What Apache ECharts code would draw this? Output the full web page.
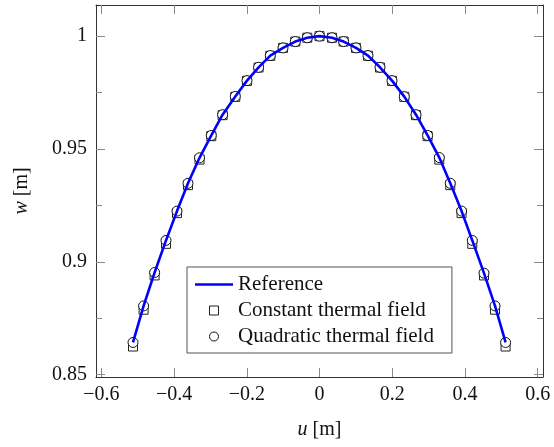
<!DOCTYPE html>
<html>
<head>
<meta charset="utf-8">
<script src="https://cdn.jsdelivr.net/npm/echarts@6/dist/echarts.min.js"></script>
<style>
html,body{margin:0;padding:0;background:#fff;}
#chart{width:554px;height:447px;}
</style>
</head>
<body>
<div id="chart"></div>
<script>
const uValues = [-0.5129, -0.4838, -0.4535, -0.4222, -0.3919, -0.3617, -0.3300, -0.2976, -0.2665, -0.2316, -0.1994, -0.1675, -0.1353, -0.1004, -0.0666, -0.0336, 0.0000,
  0.0344, 0.0663, 0.1004, 0.1334, 0.1664, 0.1994, 0.2332, 0.2654, 0.2973, 0.3295, 0.3597, 0.3908, 0.4202, 0.4524, 0.4827, 0.5118];
const wReference = [0.8643, 0.8805, 0.8953, 0.9095, 0.9225, 0.9348, 0.9461, 0.9560, 0.9652, 0.9733, 0.9803, 0.9862, 0.9914, 0.9948, 0.9976, 0.9993, 1.0000,
  0.9993, 0.9976, 0.9948, 0.9914, 0.9862, 0.9803, 0.9732, 0.9652, 0.9560, 0.9462, 0.9348, 0.9225, 0.9095, 0.8950, 0.8805, 0.8643];
const wConstant = [0.8625, 0.8788, 0.8940, 0.9080, 0.9216, 0.9340, 0.9453, 0.9557, 0.9650, 0.9731, 0.9802, 0.9861, 0.9913, 0.9948, 0.9976, 0.9993, 1.0000,
  0.9993, 0.9976, 0.9948, 0.9913, 0.9861, 0.9802, 0.9731, 0.9650, 0.9557, 0.9453, 0.9340, 0.9216, 0.9080, 0.8940, 0.8788, 0.8625];
const wQuadratic = [0.8643, 0.8805, 0.8953, 0.9095, 0.9225, 0.9348, 0.9461, 0.9560, 0.9652, 0.9733, 0.9803, 0.9862, 0.9914, 0.9948, 0.9976, 0.9993, 1.0000,
  0.9993, 0.9976, 0.9948, 0.9914, 0.9862, 0.9803, 0.9732, 0.9652, 0.9560, 0.9462, 0.9348, 0.9225, 0.9095, 0.8950, 0.8805, 0.8643];
const xTicks = [-0.6, -0.4, -0.2, 0, 0.2, 0.4, 0.6];
const yTicks = [0.85, 0.9, 0.95, 1];
const yMinorTicks = [0.875, 0.925, 0.975];
const seriesNames = ['Reference', 'Constant thermal field', 'Quadratic thermal field'];

const FONT = '"Liberation Serif", "Times New Roman", serif';
const pair = (ws) => uValues.map((u, i) => [u, ws[i]]);
const fmt = (v) => {
  const s = String(Math.round(v * 100) / 100);
  return s.replace('-', '\u2212');
};
const axisLine = { show: true, onZero: false, lineStyle: { color: '#333', width: 1 } };
const noLine = { show: false, onZero: false };
const tickStyle = { color: '#8a8a8a', width: 1 };

const chart = echarts.init(document.getElementById('chart'), null, { renderer: 'canvas' });
chart.setOption({
  animation: false,
  backgroundColor: '#fff',
  grid: { left: 96, right: 11, top: 5, bottom: 70, containLabel: false },
  xAxis: [
    {
      type: 'value', position: 'bottom', min: -0.6147, max: 0.6147,
      axisLine: axisLine,
      axisTick: { show: true, inside: true, length: 9, lineStyle: tickStyle, customValues: xTicks },
      axisLabel: { show: true, margin: 8, color: '#111', fontFamily: FONT, fontSize: 20, customValues: xTicks, formatter: fmt },
      splitLine: { show: false },
      name: '{i|u} [m]', nameLocation: 'middle', nameGap: 43,
      nameTextStyle: { color: '#111', fontFamily: FONT, fontSize: 20, rich: { i: { fontStyle: 'italic', fontFamily: FONT, fontSize: 20, color: '#111' } } }
    },
    {
      type: 'value', position: 'top', min: -0.6147, max: 0.6147,
      axisLine: axisLine,
      axisTick: { show: true, inside: true, length: 9, lineStyle: tickStyle, customValues: xTicks },
      axisLabel: { show: false },
      splitLine: { show: false }
    }
  ],
  yAxis: [
    {
      type: 'value', position: 'left', min: 0.849, max: 1.0138,
      axisLine: axisLine,
      axisTick: { show: true, inside: true, length: 9, lineStyle: tickStyle, customValues: yTicks },
      axisLabel: { show: true, margin: 9, color: '#111', fontFamily: FONT, fontSize: 20, customValues: yTicks, formatter: fmt },
      splitLine: { show: false },
      name: '{i|w} [m]', nameLocation: 'middle', nameGap: 64, nameRotate: 90,
      nameTextStyle: { color: '#111', fontFamily: FONT, fontSize: 20, rich: { i: { fontStyle: 'italic', fontFamily: FONT, fontSize: 20, color: '#111' } } }
    },
    {
      type: 'value', position: 'left', offset: 0, min: 0.849, max: 1.0138,
      axisLine: noLine,
      axisTick: { show: true, inside: true, length: 6, lineStyle: tickStyle, customValues: yMinorTicks },
      axisLabel: { show: false },
      splitLine: { show: false }
    },
    {
      type: 'value', position: 'right', offset: 0, min: 0.849, max: 1.0138,
      axisLine: axisLine,
      axisTick: { show: true, inside: true, length: 9, lineStyle: tickStyle, customValues: yTicks },
      axisLabel: { show: false },
      splitLine: { show: false }
    },
    {
      type: 'value', position: 'right', offset: 0, min: 0.849, max: 1.0138,
      axisLine: noLine,
      axisTick: { show: true, inside: true, length: 6, lineStyle: tickStyle, customValues: yMinorTicks },
      axisLabel: { show: false },
      splitLine: { show: false }
    }
  ],
  legend: {
    orient: 'vertical', left: 187, top: 267,
    padding: [7, 18, 6, 8], itemGap: 5, itemWidth: 38, itemHeight: 9,
    borderColor: '#555', borderWidth: 1, backgroundColor: '#fff',
    textStyle: { color: '#111', fontFamily: FONT, fontSize: 21, lineHeight: 20 },
    data: [
      { name: seriesNames[0], icon: 'path://M0,0H38V2.6H0Z', itemStyle: { color: '#0000ff', borderWidth: 0 } },
      { name: seriesNames[1], icon: 'path://M0,0H10V10H0Z', itemStyle: { color: '#fff', borderColor: '#222', borderWidth: 1 } },
      { name: seriesNames[2], icon: 'circle', itemStyle: { color: '#fff', borderColor: '#111', borderWidth: 1 } }
    ]
  },
  series: [
    {
      name: seriesNames[0], type: 'line', xAxisIndex: 0, yAxisIndex: 0,
      data: pair(wReference), symbol: 'none', showSymbol: false,
      lineStyle: { color: '#0000ff', width: 2.6 }, itemStyle: { color: '#0000ff' }
    },
    {
      name: seriesNames[1], type: 'scatter', xAxisIndex: 0, yAxisIndex: 0,
      data: pair(wConstant), symbol: 'rect', symbolSize: 9,
      itemStyle: { color: '#fff', borderColor: '#222', borderWidth: 1, opacity: 1 }
    },
    {
      name: seriesNames[2], type: 'scatter', xAxisIndex: 0, yAxisIndex: 0,
      data: pair(wQuadratic), symbol: 'circle', symbolSize: 10,
      itemStyle: { color: '#fff', borderColor: '#111', borderWidth: 1, opacity: 1 }
    }
  ]
});
</script>
</body>
</html>
